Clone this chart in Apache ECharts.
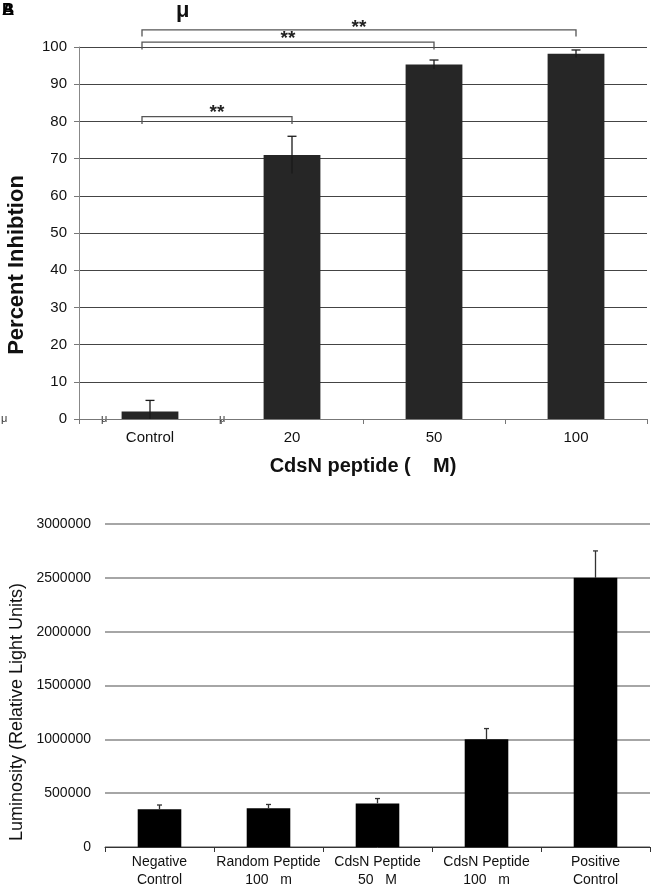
<!DOCTYPE html>
<html><head><meta charset="utf-8">
<script src="https://cdn.jsdelivr.net/npm/echarts@6/dist/echarts.min.js"></script>
<style>html,body{margin:0;padding:0;background:#fff}#c{width:653px;height:889px}</style>
</head><body><div id="c"></div>
<script>
// ---- Panel A data ----
const topCategories = ['Control', '20', '50', '100'];
const topValues = [2, 71, 95.3, 98.2];
const topErrors = [3, 5, 1.2, 1.0];
const topAxisMin = 0, topAxisMax = 100, topAxisStep = 10;
// significance brackets: from category, to category, bracket level, tip level, star level
const sigFrom = [0, 0, 0];
const sigTo = [1, 2, 3];
const sigLevel = [81.3, 101.3, 104.6];
const sigTip = [79.3, 99.3, 102.8];
const sigStar = [82.4, 102.1, 105.3];
const sigLabel = ['**', '**', '**'];

// ---- Panel B data ----
const bottomCategories = ['Negative\nControl', 'Random Peptide\n100   m', 'CdsN Peptide\n50   M', 'CdsN Peptide\n100   m', 'Positive\nControl'];
const bottomValues = [350000, 360000, 405000, 1000000, 2500000];
const bottomErrors = [40000, 35000, 45000, 100000, 250000];
const bottomAxisMin = 0, bottomAxisMax = 3000000, bottomAxisStep = 500000;

const FONT = 'Liberation Sans, Arial, sans-serif';

function errorBarRenderer(capHalf, color, width, symmetric) {
  return function (params, api) {
    const i = api.value(0), v = api.value(1), e = api.value(2);
    const hi = api.coord([i, v + e]);
    const lo = api.coord([i, symmetric ? Math.max(0, v - e) : v]);
    return {
      type: 'group',
      children: [
        { type: 'line', shape: { x1: hi[0], y1: hi[1], x2: lo[0], y2: lo[1] }, style: { stroke: color, lineWidth: width } },
        { type: 'line', shape: { x1: hi[0] - capHalf, y1: hi[1], x2: hi[0] + capHalf, y2: hi[1] }, style: { stroke: color, lineWidth: width } }
      ]
    };
  };
}

function bracketRenderer(params, api) {
  const f = api.value(0), t = api.value(1), lv = api.value(2), tv = api.value(3), sv = api.value(4);
  const idx = params.dataIndex;
  const a = api.coord([f, lv]), b = api.coord([t, lv]);
  const at = api.coord([f, tv]), bt = api.coord([t, tv]);
  const s = api.coord([f, sv]);
  const leftX = a[0] - 8;
  const midX = (leftX + b[0]) / 2;
  return {
    type: 'group',
    children: [
      { type: 'polyline', shape: { points: [[leftX, at[1]], [leftX, a[1]], [b[0], b[1]], [b[0], bt[1]]] },
        style: { stroke: '#555', lineWidth: 1.3, fill: null } },
      { type: 'text', style: { text: sigLabel[idx], x: midX, y: s[1], align: 'center', verticalAlign: 'middle',
        font: 'bold 19px ' + FONT, fill: '#222' } }
    ]
  };
}

const chart = echarts.init(document.getElementById('c'), null, { renderer: 'canvas' });
const option = {
  animation: false,
  backgroundColor: '#fff',
  textStyle: { fontFamily: FONT },
  grid: [
    { left: 79, right: 6, top: 47, bottom: 470, containLabel: false },
    { left: 105, right: 3, top: 524, bottom: 41, containLabel: false }
  ],
  xAxis: [
    {
      gridIndex: 0, type: 'category', data: topCategories,
      axisLine: { lineStyle: { color: '#777', width: 1 } },
      axisTick: { show: true, length: 5, lineStyle: { color: '#777' } },
      axisLabel: { fontSize: 15, color: '#111', margin: 11, fontFamily: FONT },
      name: 'CdsN peptide (    M)', nameLocation: 'middle', nameGap: 37,
      nameTextStyle: { fontSize: 20, fontWeight: 'bold', color: '#111', fontFamily: FONT }
    },
    {
      gridIndex: 1, type: 'category', data: bottomCategories,
      axisLine: { lineStyle: { color: '#333', width: 1 } },
      axisTick: { show: true, length: 5, lineStyle: { color: '#333' } },
      axisLabel: { fontSize: 14, color: '#111', margin: 6, lineHeight: 18, fontFamily: FONT, interval: 0 }
    }
  ],
  yAxis: [
    {
      gridIndex: 0, type: 'value', min: topAxisMin, max: topAxisMax, interval: topAxisStep,
      axisLine: { show: true, lineStyle: { color: '#888', width: 1 } },
      axisTick: { show: true, length: 5, lineStyle: { color: '#777' } },
      splitLine: { show: true, lineStyle: { color: '#444', width: 1 } },
      axisLabel: { fontSize: 15, color: '#111', margin: 12, fontFamily: FONT }
    },
    {
      gridIndex: 1, type: 'value', min: bottomAxisMin, max: bottomAxisMax, interval: bottomAxisStep,
      axisLine: { show: false }, axisTick: { show: false },
      splitLine: { show: true, lineStyle: { color: '#888', width: 1.5 } },
      axisLabel: { fontSize: 14, color: '#111', margin: 14, fontFamily: FONT, formatter: v => String(v) }
    }
  ],
  series: [
    { type: 'bar', xAxisIndex: 0, yAxisIndex: 0, data: topValues, barWidth: '40%',
      itemStyle: { color: '#262626' }, z: 2 },
    { type: 'custom', xAxisIndex: 0, yAxisIndex: 0, z: 3,
      data: topValues.map((v, i) => [i, v, topErrors[i]]),
      renderItem: errorBarRenderer(4.5, '#1a1a1a', 1.3, true) },
    { type: 'custom', xAxisIndex: 0, yAxisIndex: 0, z: 4, clip: false,
      data: sigFrom.map((f, i) => [f, sigTo[i], sigLevel[i], sigTip[i], sigStar[i]]),
      renderItem: bracketRenderer },
    { type: 'bar', xAxisIndex: 1, yAxisIndex: 1, data: bottomValues, barWidth: '40%',
      itemStyle: { color: '#000' }, z: 2 },
    { type: 'custom', xAxisIndex: 1, yAxisIndex: 1, z: 3,
      data: bottomValues.map((v, i) => [i, v, bottomErrors[i]]),
      renderItem: errorBarRenderer(2.5, '#333', 1.3, false) }
  ],
  graphic: [
    { type: 'text', x: 17, y: 265, rotation: Math.PI / 2,
      style: { text: 'Percent Inhibtion', font: 'bold 22px ' + FONT, fill: '#111', align: 'center', verticalAlign: 'middle' } },
    { type: 'text', x: 17, y: 712, rotation: Math.PI / 2,
      style: { text: 'Luminosity (Relative Light Units)', font: '18px ' + FONT, fill: '#111', align: 'center', verticalAlign: 'middle' } },
    { type: 'text', left: 2, top: 2, style: { text: 'A', font: 'bold 17px ' + FONT, fill: '#000' } },
    { type: 'text', left: 2, top: 2, style: { text: 'B', font: 'bold 17px ' + FONT, fill: '#000' } },
    { type: 'text', left: 176, top: 0, style: { text: 'μ', font: 'bold 22px ' + FONT, fill: '#111' } },
    { type: 'text', left: 1, top: 413, style: { text: 'μ', font: '11px ' + FONT, fill: '#333' } },
    { type: 'text', left: 101, top: 413, style: { text: 'μ', font: '11px ' + FONT, fill: '#333' } },
    { type: 'text', left: 219, top: 413, style: { text: 'μ', font: '11px ' + FONT, fill: '#333' } }
  ]
};
chart.setOption(option);
</script>
</body></html>
